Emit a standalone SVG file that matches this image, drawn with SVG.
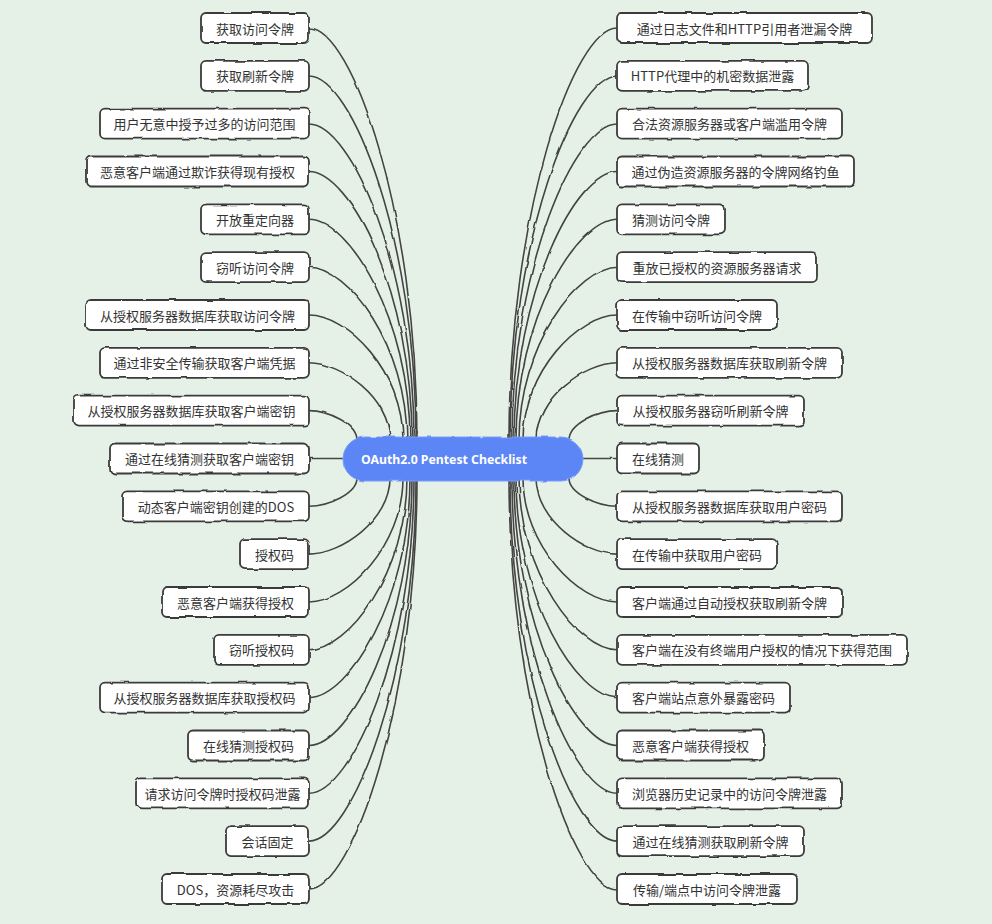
<svg xmlns="http://www.w3.org/2000/svg" width="992" height="924" viewBox="0 0 992 924">
  <defs>
    <!-- hand-drawn wobble for outlines and lines -->
    <filter id="rough" x="-5%" y="-20%" width="110%" height="140%">
      <feTurbulence type="fractalNoise" baseFrequency="0.06" numOctaves="2" seed="4" result="n"/>
      <feDisplacementMap in="SourceGraphic" in2="n" scale="3" xChannelSelector="R" yChannelSelector="G"/>
    </filter>
    <filter id="roughLine" x="-5%" y="-5%" width="110%" height="110%">
      <feTurbulence type="fractalNoise" baseFrequency="0.05" numOctaves="2" seed="9" result="n"/>
      <feDisplacementMap in="SourceGraphic" in2="n" scale="2.5" xChannelSelector="R" yChannelSelector="G"/>
    </filter>
    <style>
      .box { fill: #ffffff; stroke: #3a3a3a; stroke-width: 1.8; filter: url(#rough); }
      .lbl { font-family: "Noto Sans CJK SC", "Liberation Sans", sans-serif; font-size: 13px; fill: #333333; text-anchor: middle; dominant-baseline: central; }
      .link { fill: none; stroke: #444444; stroke-width: 1.6; }
      .root { fill: #5b86f6; stroke: #7a9cf8; stroke-width: 1; filter: url(#rough); }
      .rootlbl { font-family: "Noto Sans", "Liberation Sans", sans-serif; font-size: 13px; font-weight: bold; fill: #ffffff; dominant-baseline: central; }
    </style>
  </defs>

  <rect width="992" height="924" fill="#e5f1e7"/>

  <!-- connectors -->
  <g id="connectors" filter="url(#roughLine)">
    <path class="link" d="M309,28 C352,28 417,213 417,440"/>
    <path class="link" d="M309,76 C352,76 416,240 416,440"/>
    <path class="link" d="M309,124 C351,124 414,266 414,440"/>
    <path class="link" d="M309,171.5 C350,171.5 412,292 412,440"/>
    <path class="link" d="M309,219.3 C349,219.3 410,319 410,440"/>
    <path class="link" d="M309,267.2 C348,267.2 407,345 407,440"/>
    <path class="link" d="M309,315 C347,315 403,371 403,440"/>
    <path class="link" d="M309,362.8 C341,362.8 390,397.5 390,440"/>
    <path class="link" d="M309,410.6 C328,410.6 357,424 357,440"/>
    <path class="link" d="M309,458.5 L350,458.5"/>
    <path class="link" d="M309,506.3 C328,506.3 357,493.6 357,478"/>
    <path class="link" d="M309,554.1 C341,554.1 390,520 390,478"/>
    <path class="link" d="M309,602 C347,602 403,546 403,478"/>
    <path class="link" d="M309,649.8 C348,649.8 407,572.5 407,478"/>
    <path class="link" d="M309,697.6 C349,697.6 410,599 410,478"/>
    <path class="link" d="M309,745.5 C350,745.5 412,625 412,478"/>
    <path class="link" d="M309,793.3 C351,793.3 414,651 414,478"/>
    <path class="link" d="M309,841.1 C352,841.1 416,678 416,478"/>
    <path class="link" d="M309,889 C352,889 417,704 417,478"/>

    <path class="link" d="M617,28 C574,28 509,213 509,440"/>
    <path class="link" d="M617,76 C574,76 510,240 510,440"/>
    <path class="link" d="M617,124 C575,124 512,266 512,440"/>
    <path class="link" d="M617,171.5 C576,171.5 514,292 514,440"/>
    <path class="link" d="M617,219.3 C577,219.3 516,319 516,440"/>
    <path class="link" d="M617,267.2 C578,267.2 519,345 519,440"/>
    <path class="link" d="M617,315 C579,315 523,371 523,440"/>
    <path class="link" d="M617,362.8 C585,362.8 536,397.5 536,440"/>
    <path class="link" d="M617,410.6 C598,410.6 569,424 569,440"/>
    <path class="link" d="M617,458.5 L576,458.5"/>
    <path class="link" d="M617,506.3 C598,506.3 569,493.6 569,478"/>
    <path class="link" d="M617,554.1 C585,554.1 536,520 536,478"/>
    <path class="link" d="M617,602 C579,602 523,546 523,478"/>
    <path class="link" d="M617,649.8 C578,649.8 519,572.5 519,478"/>
    <path class="link" d="M617,697.6 C577,697.6 516,599 516,478"/>
    <path class="link" d="M617,745.5 C576,745.5 514,625 514,478"/>
    <path class="link" d="M617,793.3 C575,793.3 512,651 512,478"/>
    <path class="link" d="M617,841.1 C574,841.1 510,678 510,478"/>
    <path class="link" d="M617,889 C574,889 509,704 509,478"/>
  </g>

  <!-- central topic -->
  <g id="root">
    <rect class="root" x="343" y="437" width="240" height="44" rx="22"/>
    <text class="rootlbl" x="361" y="459" textLength="166" lengthAdjust="spacingAndGlyphs">OAuth2.0 Pentest Checklist</text>
  </g>

  <!-- left branch -->
  <g id="l1"><rect class="box" x="201" y="13" width="108" height="30" rx="5"/><text class="lbl" x="255" y="28">获取访问令牌</text></g>
  <g id="l2"><rect class="box" x="201" y="60.8" width="108" height="30" rx="5"/><text class="lbl" x="255" y="75.8">获取刷新令牌</text></g>
  <g id="l3"><rect class="box" x="100" y="108.7" width="209" height="30" rx="5"/><text class="lbl" x="204.5" y="123.7">用户无意中授予过多的访问范围</text></g>
  <g id="l4"><rect class="box" x="86" y="156.5" width="223" height="30" rx="5"/><text class="lbl" x="197.5" y="171.5">恶意客户端通过欺诈获得现有授权</text></g>
  <g id="l5"><rect class="box" x="201" y="204.3" width="108" height="30" rx="5"/><text class="lbl" x="255" y="219.3">开放重定向器</text></g>
  <g id="l6"><rect class="box" x="201" y="252.2" width="108" height="30" rx="5"/><text class="lbl" x="255" y="267.2">窃听访问令牌</text></g>
  <g id="l7"><rect class="box" x="86" y="300" width="223" height="30" rx="5"/><text class="lbl" x="197.5" y="315">从授权服务器数据库获取访问令牌</text></g>
  <g id="l8"><rect class="box" x="100" y="347.8" width="209" height="30" rx="5"/><text class="lbl" x="204.5" y="362.8">通过非安全传输获取客户端凭据</text></g>
  <g id="l9"><rect class="box" x="74" y="395.6" width="235" height="30" rx="5"/><text class="lbl" x="191.5" y="410.6">从授权服务器数据库获取客户端密钥</text></g>
  <g id="l10"><rect class="box" x="110" y="443.5" width="199" height="30" rx="5"/><text class="lbl" x="209.5" y="458.5">通过在线猜测获取客户端密钥</text></g>
  <g id="l11"><rect class="box" x="123" y="491.3" width="186" height="30" rx="5"/><text class="lbl" x="216" y="506.3">动态客户端密钥创建的DOS</text></g>
  <g id="l12"><rect class="box" x="240" y="539.1" width="69" height="30" rx="5"/><text class="lbl" x="274.5" y="554.1">授权码</text></g>
  <g id="l13"><rect class="box" x="162" y="587" width="147" height="30" rx="5"/><text class="lbl" x="235.5" y="602">恶意客户端获得授权</text></g>
  <g id="l14"><rect class="box" x="214" y="634.8" width="95" height="30" rx="5"/><text class="lbl" x="261.5" y="649.8">窃听授权码</text></g>
  <g id="l15"><rect class="box" x="100" y="682.6" width="209" height="30" rx="5"/><text class="lbl" x="204.5" y="697.6">从授权服务器数据库获取授权码</text></g>
  <g id="l16"><rect class="box" x="188" y="730.5" width="121" height="30" rx="5"/><text class="lbl" x="248.5" y="745.5">在线猜测授权码</text></g>
  <g id="l17"><rect class="box" x="136" y="778.3" width="173" height="30" rx="5"/><text class="lbl" x="222.5" y="793.3">请求访问令牌时授权码泄露</text></g>
  <g id="l18"><rect class="box" x="226" y="826.1" width="83" height="30" rx="5"/><text class="lbl" x="267.5" y="841.1">会话固定</text></g>
  <g id="l19"><rect class="box" x="162" y="874" width="147" height="30" rx="5"/><text class="lbl" x="235.5" y="889">DOS，资源耗尽攻击</text></g>

  <!-- right branch -->
  <g id="r1"><rect class="box" x="617" y="13" width="255" height="30" rx="5"/><text class="lbl" x="744.5" y="28">通过日志文件和HTTP引用者泄漏令牌</text></g>
  <g id="r2"><rect class="box" x="617" y="60.8" width="191" height="30" rx="5"/><text class="lbl" x="712.5" y="75.8">HTTP代理中的机密数据泄露</text></g>
  <g id="r3"><rect class="box" x="617" y="108.7" width="225" height="30" rx="5"/><text class="lbl" x="729.5" y="123.7">合法资源服务器或客户端滥用令牌</text></g>
  <g id="r4"><rect class="box" x="617" y="156.5" width="237" height="30" rx="5"/><text class="lbl" x="735.5" y="171.5">通过伪造资源服务器的令牌网络钓鱼</text></g>
  <g id="r5"><rect class="box" x="617" y="204.3" width="108" height="30" rx="5"/><text class="lbl" x="671" y="219.3">猜测访问令牌</text></g>
  <g id="r6"><rect class="box" x="617" y="252.2" width="200" height="30" rx="5"/><text class="lbl" x="717" y="267.2">重放已授权的资源服务器请求</text></g>
  <g id="r7"><rect class="box" x="617" y="300" width="160" height="30" rx="5"/><text class="lbl" x="697" y="315">在传输中窃听访问令牌</text></g>
  <g id="r8"><rect class="box" x="617" y="347.8" width="225" height="30" rx="5"/><text class="lbl" x="729.5" y="362.8">从授权服务器数据库获取刷新令牌</text></g>
  <g id="r9"><rect class="box" x="617" y="395.6" width="187" height="30" rx="5"/><text class="lbl" x="710.5" y="410.6">从授权服务器窃听刷新令牌</text></g>
  <g id="r10"><rect class="box" x="617" y="443.5" width="82" height="30" rx="5"/><text class="lbl" x="658" y="458.5">在线猜测</text></g>
  <g id="r11"><rect class="box" x="617" y="491.3" width="225" height="30" rx="5"/><text class="lbl" x="729.5" y="506.3">从授权服务器数据库获取用户密码</text></g>
  <g id="r12"><rect class="box" x="617" y="539.1" width="160" height="30" rx="5"/><text class="lbl" x="697" y="554.1">在传输中获取用户密码</text></g>
  <g id="r13"><rect class="box" x="617" y="587" width="225" height="30" rx="5"/><text class="lbl" x="729.5" y="602">客户端通过自动授权获取刷新令牌</text></g>
  <g id="r14"><rect class="box" x="617" y="634.8" width="290" height="30" rx="5"/><text class="lbl" x="762" y="649.8">客户端在没有终端用户授权的情况下获得范围</text></g>
  <g id="r15"><rect class="box" x="617" y="682.6" width="173" height="30" rx="5"/><text class="lbl" x="703.5" y="697.6">客户端站点意外暴露密码</text></g>
  <g id="r16"><rect class="box" x="617" y="730.5" width="147" height="30" rx="5"/><text class="lbl" x="690.5" y="745.5">恶意客户端获得授权</text></g>
  <g id="r17"><rect class="box" x="617" y="778.3" width="225" height="30" rx="5"/><text class="lbl" x="729.5" y="793.3">浏览器历史记录中的访问令牌泄露</text></g>
  <g id="r18"><rect class="box" x="617" y="826.1" width="187" height="30" rx="5"/><text class="lbl" x="710.5" y="841.1">通过在线猜测获取刷新令牌</text></g>
  <g id="r19"><rect class="box" x="617" y="874" width="180" height="30" rx="5"/><text class="lbl" x="707" y="889">传输/端点中访问令牌泄露</text></g>
</svg>
